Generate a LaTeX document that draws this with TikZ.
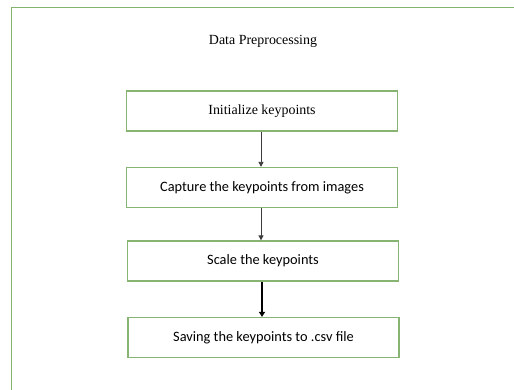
\documentclass[tikz,border=0pt]{standalone}
\usepackage{fontspec}
\setmainfont{Liberation Serif}
\newfontfamily\bodysans{Carlito}
\usetikzlibrary{arrows.meta}
\definecolor{framegreen}{RGB}{130,180,110}
\definecolor{boxgreen}{RGB}{135,180,115}
\definecolor{arrowgray}{RGB}{60,60,60}
\tikzset{
  stepbox/.style={draw=boxgreen, line width=1.3bp, minimum width=271bp, minimum height=40bp, inner sep=0pt, font=\bodysans\fontsize{14.4}{16}\selectfont},
  serifbox/.style={stepbox, font=\fontsize{14}{16}\selectfont},
  flow/.style={draw=arrowgray, line width=0.8bp, -{Triangle[length=5bp,width=5bp]}},
  boldflow/.style={draw=black, line width=1.4bp, -{Triangle[length=5bp,width=6bp]}}
}
\begin{document}
\begin{tikzpicture}[x=1bp,y=-1bp]
  \useasboundingbox (0,0) rectangle (514,389);
  \fill[white] (0,0) rectangle (514,389);
  % outer frame running off the right and bottom edges
  \begin{scope}
    \clip (0,0) rectangle (514,389);
    \draw[framegreen, line width=1.4bp] (11.5,7.5) rectangle (530,400);
  \end{scope}
  \node[font=\fontsize{14}{16}\selectfont] (title) at (263,41) {Data Preprocessing};
  \node[serifbox] (init) at (262,111) {Initialize keypoints};
  \node[stepbox] (capture) at (262,187.5) {Capture the keypoints from images};
  \node[stepbox] (scale) at (263,261) {Scale the keypoints};
  \node[stepbox] (save) at (263.5,337.5) {Saving the keypoints to .csv file};
  \draw[flow] (init.south -| 261,0) -- (capture.north -| 261,0);
  \draw[flow] (capture.south -| 261,0) -- (scale.north -| 261,0);
  \draw[boldflow] (scale.south -| 262,0) -- (save.north -| 262,0);
\end{tikzpicture}
\end{document}
